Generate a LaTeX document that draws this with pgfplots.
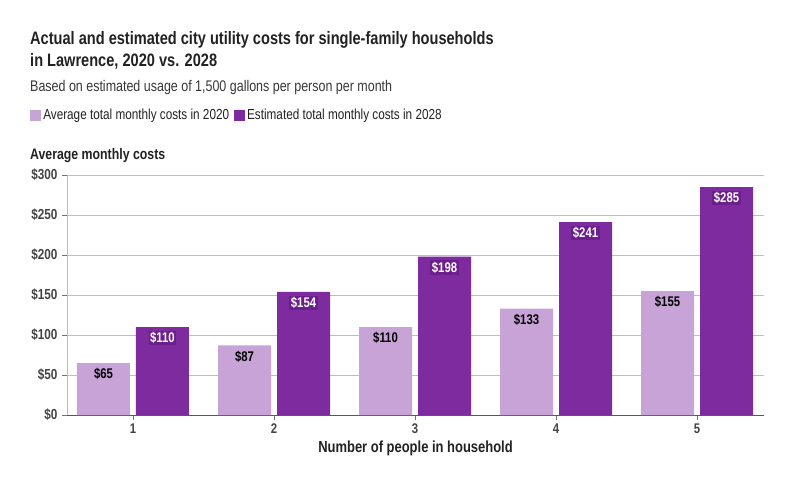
\documentclass[border=0pt]{standalone}
\usepackage{pgfplots}
\pgfplotsset{compat=1.18}
\usepackage{fontspec}
\setmainfont{Liberation Sans}[FakeStretch=0.81]
\definecolor{lightp}{HTML}{C8A3D7}
\definecolor{darkp}{HTML}{7F2BA0}
\definecolor{halo}{HTML}{6C1E8C}
\definecolor{gridc}{HTML}{BDBDBD}
\definecolor{txt}{HTML}{222222}
\begin{document}
\begin{tikzpicture}[x=1pt,y=1pt]
\path[use as bounding box, fill=white] (0,0) rectangle (799,495);
\node[anchor=base west, inner sep=0, text=txt, font=\fontsize{18}{22}\selectfont\bfseries] at (30,450) {Actual and estimated city utility costs for single-family households};
\node[anchor=base west, inner sep=0, text=txt, font=\fontsize{18}{22}\selectfont\bfseries] at (30,428) {in Lawrence, 2020 vs. 2028};
\node[anchor=base west, inner sep=0, text=txt!90, font=\fontsize{15.4}{18}\selectfont] at (30,403) {Based on estimated usage of 1,500 gallons per person per month};
\node[anchor=base west, inner sep=0, text=txt, font=\fontsize{15.2}{18}\selectfont\bfseries] at (30,335) {Average monthly costs};
\begin{axis}[
  /pgf/number format/assume math mode=true,
  at={(67pt,80pt)}, anchor=south west,
  scale only axis, width=697pt, height=240pt,
  xmin=0.532, xmax=5.475, ymin=0, ymax=300,
  axis lines*=left,
  x axis line style={color=black!65, line width=0.9pt},
  y axis line style={color=gridc, line width=0.9pt},
  ymajorgrids, grid style={gridc, line width=0.9pt},
  tick align=outside, major tick length=5pt,
  tick style={color=black!55, line width=0.8pt},
  ytick={0,50,100,150,200,250,300},
  yticklabels={\$0,\$50,\$100,\$150,\$200,\$250,\$300},
  xtick={1,2,3,4,5}, xticklabels={1,2,3,4,5},
  y tick label style={font=\fontsize{14.5}{16}\selectfont\bfseries, text=txt!85, xshift=-1pt},
  x tick label style={font=\fontsize{14}{16}\selectfont\bfseries, text=txt!85},
  xlabel={Number of people in household},
  xlabel style={font=\fontsize{16}{19}\selectfont\bfseries, text=txt, yshift=-1pt},
  ybar=6pt, bar width=53pt,
  clip=false,
  sqlegend/.style={legend image code/.code={\fill[##1] (0pt,-5.5pt) rectangle (11pt,5.5pt);}},
  legend style={at={(axis description cs:-0.053,1.25)}, anchor=west, draw=none, fill=none,
    legend columns=2, font=\fontsize{14.5}{17}\selectfont, text=txt,
    /tikz/every even column/.append style={column sep=3pt},
    inner sep=0pt, cells={anchor=west}},
]
\addplot[fill=lightp, draw=none, sqlegend,
  nodes near coords={\$\pgfmathprintnumber{\pgfplotspointmeta}},
  every node near coord/.append style={anchor=center, yshift=-11pt, text=black, font=\fontsize{14}{16}\selectfont\bfseries}]
  coordinates {(1,65) (2,87) (3,110) (4,133) (5,155)};
\addlegendentry{Average total monthly costs in 2020}
\addplot[fill=darkp, draw=none, sqlegend,
  nodes near coords={\$\pgfmathprintnumber{\pgfplotspointmeta}},
  every node near coord/.append style={anchor=center, yshift=-11pt, text=white, fill=halo, inner sep=1.5pt, font=\fontsize{14}{16}\selectfont\bfseries}]
  coordinates {(1,110) (2,154) (3,198) (4,241) (5,285)};
\addlegendentry{Estimated total monthly costs in 2028}
\end{axis}
\end{tikzpicture}
\end{document}
